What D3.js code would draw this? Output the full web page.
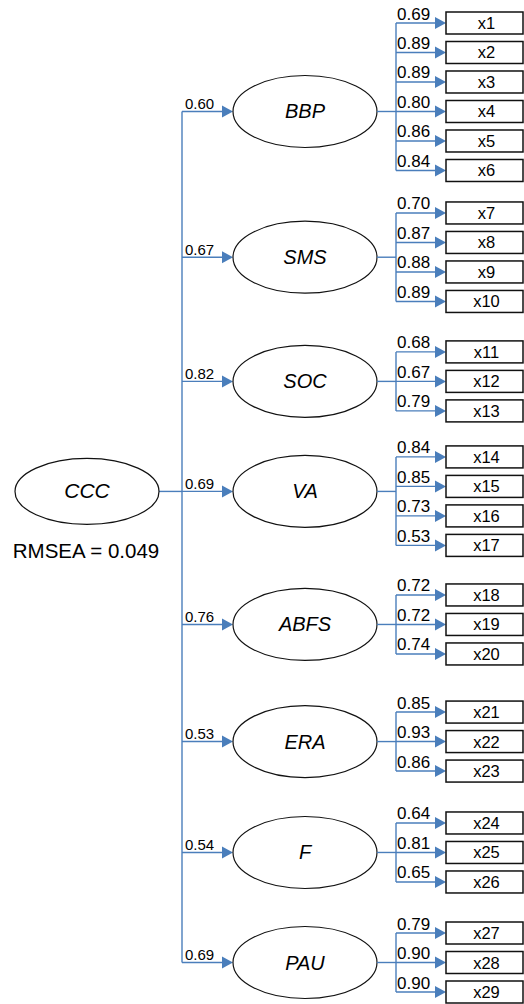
<!DOCTYPE html>
<html>
<head>
<meta charset="utf-8">
<script src="https://cdn.jsdelivr.net/npm/d3@7"></script>
<style>
  html, body { margin: 0; padding: 0; background: #fff; }
  svg { display: block; }
  text { font-family: "Liberation Sans", Arial, Helvetica, sans-serif; }
</style>
</head>
<body>
<svg id="chart" width="524" height="1004"></svg>
<script>
// ---------- data ----------
const rootName = "CCC";
const rmseaLabel = "RMSEA";
const rmseaValue = 0.049;
const latents = ["BBP", "SMS", "SOC", "VA", "ABFS", "ERA", "F", "PAU"];
const structLoadings = [0.60, 0.67, 0.82, 0.69, 0.76, 0.53, 0.54, 0.69];
const indicatorCounts = [6, 4, 3, 4, 3, 3, 3, 3];
const indicatorLabels = ["x1","x2","x3","x4","x5","x6","x7","x8","x9","x10",
  "x11","x12","x13","x14","x15","x16","x17","x18","x19","x20",
  "x21","x22","x23","x24","x25","x26","x27","x28","x29"];
const indicatorLoadings = [0.69, 0.89, 0.89, 0.80, 0.86, 0.84,
  0.70, 0.87, 0.88, 0.89,
  0.68, 0.67, 0.79,
  0.84, 0.85, 0.73, 0.53,
  0.72, 0.72, 0.74,
  0.85, 0.93, 0.86,
  0.64, 0.81, 0.65,
  0.79, 0.90, 0.90];

// ---------- layout (slot units) ----------
const groupGap = [0, 0.44, 0.71, 0.56, 0.68, 0.97, 0.76, 0.73];
const latentShift = [0.5, 0, 0, -0.33, 0, 0, 0, 0];

const blue = "#4a7ebb";
const svg = d3.select("#chart");

// compute slot index for each indicator
let slot = 0, k = 0;
const groups = latents.map((name, g) => {
  slot += groupGap[g];
  const items = [];
  for (let i = 0; i < indicatorCounts[g]; i++) {
    items.push({ label: indicatorLabels[k], loading: indicatorLoadings[k], slot: slot });
    k++; slot += 1;
  }
  slot -= 1;
  const mid = d3.mean(items, d => d.slot) + latentShift[g];
  slot += 1;
  return { name, loading: structLoadings[g], items, slot: mid };
});
const lastSlot = groups[groups.length - 1].items.slice(-1)[0].slot;

const y = d3.scaleLinear().domain([0, lastSlot]).range([23, 992]);

// x layout
const trunkX = 182, latentCx = 305, latentRx = 72, latentRy = 36;
const subX = 396, boxX = 446, boxW = 77, boxH = 22;
const rootCx = 87, rootRx = 72, rootRy = 33;
const arrowL = 11, arrowH = 6;

function arrow(g, x1, x2, yy) {
  g.append("line").attr("x1", x1).attr("x2", x2 - arrowL + 1).attr("y1", yy).attr("y2", yy)
    .attr("stroke", blue).attr("stroke-width", 1.4);
  g.append("path")
    .attr("d", `M${x2},${yy} L${x2 - arrowL},${yy - arrowH} L${x2 - arrowL},${yy + arrowH} Z`)
    .attr("fill", blue);
}

const rootY = y(groups[3].slot);

// trunk
svg.append("line").attr("x1", trunkX).attr("x2", trunkX)
  .attr("y1", y(groups[0].slot)).attr("y2", y(groups[groups.length - 1].slot))
  .attr("stroke", blue).attr("stroke-width", 1.4);
svg.append("line").attr("x1", rootCx + rootRx).attr("x2", trunkX)
  .attr("y1", rootY).attr("y2", rootY).attr("stroke", blue).attr("stroke-width", 1.4);

// root
svg.append("ellipse").attr("cx", rootCx).attr("cy", rootY).attr("rx", rootRx).attr("ry", rootRy)
  .attr("fill", "#fff").attr("stroke", "#111").attr("stroke-width", 1.2);
svg.append("text").attr("x", rootCx).attr("y", rootY + 7).attr("text-anchor", "middle")
  .attr("font-size", 21).attr("font-style", "italic").text(rootName);
svg.append("text").attr("x", rootCx - 1).attr("y", rootY + 67).attr("text-anchor", "middle")
  .attr("font-size", 20.5).text(`${rmseaLabel} = ${d3.format(".3f")(rmseaValue)}`);

groups.forEach(gr => {
  const g = svg.append("g");
  const ly = y(gr.slot);
  arrow(g, trunkX, latentCx - latentRx, ly);
  g.append("text").attr("x", trunkX + 3).attr("y", ly - 2.5)
    .attr("font-size", 15).text(d3.format(".2f")(gr.loading));
  g.append("ellipse").attr("cx", latentCx).attr("cy", ly).attr("rx", latentRx).attr("ry", latentRy)
    .attr("fill", "#fff").attr("stroke", "#111").attr("stroke-width", 1.2);
  g.append("text").attr("x", latentCx).attr("y", ly + 7).attr("text-anchor", "middle")
    .attr("font-size", 20).attr("font-style", "italic").text(gr.name);

  // branch
  g.append("line").attr("x1", latentCx + latentRx).attr("x2", subX).attr("y1", ly).attr("y2", ly)
    .attr("stroke", blue).attr("stroke-width", 1.4);
  const y0 = y(gr.items[0].slot), y1 = y(gr.items[gr.items.length - 1].slot);
  g.append("line").attr("x1", subX).attr("x2", subX)
    .attr("y1", Math.min(y0, ly)).attr("y2", Math.max(y1, ly))
    .attr("stroke", blue).attr("stroke-width", 1.4);

  gr.items.forEach(it => {
    const iy = y(it.slot);
    arrow(g, subX, boxX, iy);
    g.append("rect").attr("x", boxX).attr("y", iy - boxH / 2).attr("width", boxW).attr("height", boxH)
      .attr("fill", "#fff").attr("stroke", "#111").attr("stroke-width", 1.5);
    g.append("text").attr("x", boxX + boxW / 2 + 2).attr("y", iy + 6).attr("text-anchor", "middle")
      .attr("font-size", 16.5).text(it.label);
    g.append("text").attr("x", subX + 1).attr("y", iy - 3.5)
      .attr("font-size", 17).text(d3.format(".2f")(it.loading));
  });
});
</script>
</body>
</html>
